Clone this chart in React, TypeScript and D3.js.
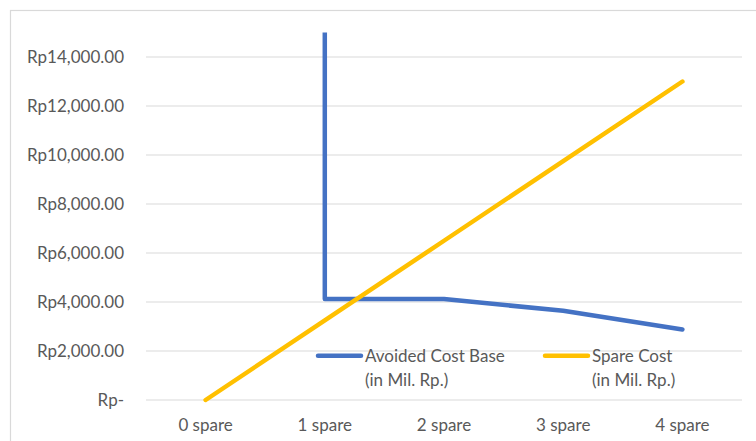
import React from "react";
import * as d3 from "d3";

const categories = ["0 spare", "1 spare", "2 spare", "3 spare", "4 spare"];
// 0 spare avoided cost is off-scale (very large), clipped at the top of the plot
const avoidedCost = [1e9, 4120, 4120, 3640, 2880];
const spareCost = [0, 3250, 6500, 9750, 13000];
const yTicks = [0, 2000, 4000, 6000, 8000, 10000, 12000, 14000];
const legendLabels = [
  ["Avoided Cost Base", "(in Mil. Rp.)"],
  ["Spare Cost", "(in Mil. Rp.)"],
];

const W = 756;
const H = 441;
const plot = { left: 146, right: 742, top: 32.5, bottom: 400 };
const font = "Lato, 'Open Sans', sans-serif";
const textColor = "#595959";
const blue = "#4472C4";
const yellow = "#FFC000";

function fmt(v: number) {
  if (v === 0) return "Rp-";
  return "Rp" + d3.format(",.2f")(v);
}

export default function App() {
  const x = d3
    .scaleBand<string>()
    .domain(categories)
    .range([plot.left, plot.right]);
  const y = d3.scaleLinear().domain([0, 15000]).range([plot.bottom, plot.top]);
  const cx = (c: string) => (x(c) ?? 0) + x.bandwidth() / 2;

  const line = d3
    .line<number>()
    .x((_, i) => cx(categories[i]))
    .y((d) => y(d));

  const series = [
    { values: avoidedCost, color: blue },
    { values: spareCost, color: yellow },
  ];
  const legendX = [318, 545];

  return (
    <svg
      width={W}
      height={H}
      style={{ position: "absolute", left: 0, top: 0, background: "#fff" }}
    >
      <defs>
        <clipPath id="plotClip">
          <rect
            x={plot.left - 10}
            y={plot.top}
            width={plot.right - plot.left + 20}
            height={plot.bottom - plot.top + 10}
          />
        </clipPath>
      </defs>
      <rect x={0} y={0} width={W} height={H} fill="#fff" />
      <rect
        x={10.5}
        y={10.5}
        width={W + 20}
        height={H + 20}
        fill="none"
        stroke="#d9d9d9"
        strokeWidth={1.2}
      />
      {yTicks.map((t) => (
        <g key={t}>
          <line
            x1={plot.left}
            x2={plot.right}
            y1={y(t)}
            y2={y(t)}
            stroke="#d9d9d9"
            strokeWidth={1.2}
          />
          <text
            x={124}
            y={y(t) + 6}
            textAnchor="end"
            fontFamily={font}
            fontSize={17}
            fill={textColor}
          >
            {fmt(t)}
          </text>
        </g>
      ))}
      {categories.map((c) => (
        <text
          key={c}
          x={cx(c)}
          y={431}
          textAnchor="middle"
          fontFamily={font}
          fontSize={17}
          fill={textColor}
        >
          {c}
        </text>
      ))}
      <g clipPath="url(#plotClip)">
        {series.map((s, i) => (
          <path
            key={i}
            d={line(s.values) ?? ""}
            fill="none"
            stroke={s.color}
            strokeWidth={4.5}
            strokeLinecap="round"
            strokeLinejoin="round"
          />
        ))}
      </g>
      {legendLabels.map((lab, i) => (
        <g key={i}>
          <line
            x1={legendX[i]}
            x2={legendX[i] + 43}
            y1={355.7}
            y2={355.7}
            stroke={series[i].color}
            strokeWidth={4.5}
            strokeLinecap="round"
          />
          <text
            x={legendX[i] + 47}
            y={362.3}
            fontFamily={font}
            fontSize={17}
            fill={textColor}
          >
            {lab[0]}
          </text>
          <text
            x={legendX[i] + 47}
            y={385.5}
            fontFamily={font}
            fontSize={17}
            fill={textColor}
          >
            {lab[1]}
          </text>
        </g>
      ))}
    </svg>
  );
}
